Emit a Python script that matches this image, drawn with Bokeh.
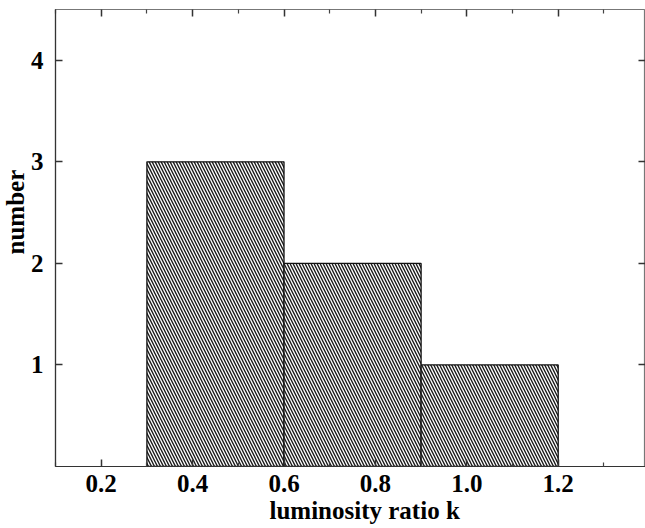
from bokeh.plotting import figure
from bokeh.models import FixedTicker, PrintfTickFormatter, LinearAxis, Range1d, Title
from bokeh.embed import file_html
from bokeh.resources import INLINE

bin_left = [0.3, 0.6, 0.9]
bin_right = [0.6, 0.9, 1.2]
counts = [3, 2, 1]
x_ticks = [0.2, 0.4, 0.6, 0.8, 1.0, 1.2]
x_minor = [0.1, 0.3, 0.5, 0.7, 0.9, 1.1, 1.3]
y_ticks = [1, 2, 3, 4]
x_title = "luminosity ratio k"
y_title = "number"

FONT = "Liberation Serif"

p = figure(width=645, height=528, output_backend="svg", toolbar_location=None,
           x_range=Range1d(0.1, 1.391), y_range=Range1d(0, 4.5),
           min_border_left=55, min_border_top=9, min_border_right=0, min_border_bottom=62)
p.grid.visible = False
p.outline_line_color = "#777777"
p.outline_line_width = 1.2
p.background_fill_color = "white"

p.quad(left=bin_left, right=bin_right, top=counts, bottom=0,
       fill_color="white", line_color="#111111", line_width=1.3,
       hatch_pattern="left_diagonal_line", hatch_color="#1a1a1a",
       hatch_scale=6, hatch_weight=1.4)

def style(ax):
    ax.axis_line_color = "#333333"
    ax.axis_line_width = 1.2
    ax.major_tick_in = 7
    ax.major_tick_out = 0
    ax.minor_tick_in = 4
    ax.minor_tick_out = 0
    ax.major_tick_line_color = "#333333"
    ax.minor_tick_line_color = "#444444"
    ax.major_tick_line_width = 1.5
    ax.minor_tick_line_width = 1.2
    ax.major_label_text_font = FONT
    ax.major_label_text_font_style = "bold"
    ax.major_label_text_font_size = "25px"
    ax.major_label_text_color = "black"

xa = p.xaxis[0]
xa.ticker = FixedTicker(ticks=x_ticks, minor_ticks=x_minor)
xa.formatter = PrintfTickFormatter(format="%.1f")
xa.major_label_standoff = 8
style(xa)

ya = p.yaxis[0]
ya.ticker = FixedTicker(ticks=y_ticks, minor_ticks=[])
ya.major_label_standoff = 12
style(ya)

top = LinearAxis(ticker=FixedTicker(ticks=x_ticks, minor_ticks=x_minor),
                 major_label_overrides={t: "" for t in x_ticks})
style(top)
top.axis_line_color = None
top.major_label_standoff = 0
p.add_layout(top, "above")

right = LinearAxis(ticker=FixedTicker(ticks=y_ticks, minor_ticks=[]),
                   major_label_overrides={t: "" for t in y_ticks})
style(right)
right.axis_line_color = None
right.major_label_standoff = 0
p.add_layout(right, "right")

p.add_layout(Title(text=x_title, align="left", offset=214, standoff=0,
                   text_font=FONT, text_font_style="bold", text_font_size="25px",
                   text_color="black"), "below")
p.add_layout(Title(text=y_title, align="left", offset=212, standoff=-2,
                   text_font=FONT, text_font_style="bold", text_font_size="25px",
                   text_color="black"), "left")

open("out.html", "w").write(file_html(p, INLINE))
